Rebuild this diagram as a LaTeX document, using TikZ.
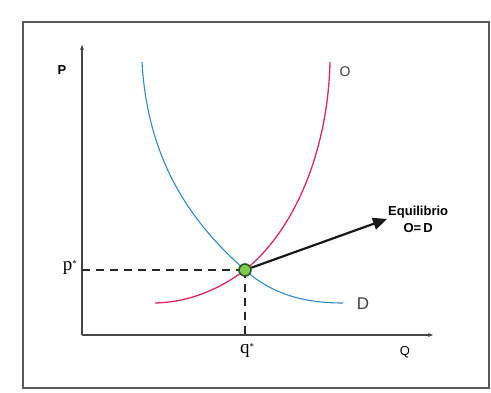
\documentclass[tikz,border=0pt]{standalone}
\usepackage{fontspec}
\setmainfont{Liberation Sans}
\newfontfamily\serifp{Liberation Serif}
\usetikzlibrary{arrows.meta,calc}
\definecolor{framegray}{RGB}{90, 90, 90}
\definecolor{axisgray}{RGB}{70, 70, 70}
\definecolor{demblue}{RGB}{45, 140, 200}
\definecolor{ofred}{RGB}{220, 40, 90}
\definecolor{eqgreen}{RGB}{130, 200, 80}
\definecolor{eqdark}{RGB}{40, 90, 30}
\tikzset{
  % Marco y ejes
  framebox/.style   = {draw=framegray, line width=1.6pt},
  axisline/.style   = {-{Stealth[length=5pt,width=4pt]}, line width=1.8pt, axisgray},
  % Curvas
  demcurve/.style   = {demblue, line width=1.1pt},
  ofcurve/.style    = {ofred, line width=1.3pt},
  % Lineas guia
  guideline/.style  = {dashed, dash pattern=on 8pt off 6pt, line width=1.4pt, black!85},
  eqarrow/.style    = {-{Triangle[length=14pt,width=12pt]}, line width=2.2pt, black!90},
  % Etiquetas
  axlab/.style      = {font=\bfseries\fontsize{13}{14}\selectfont, inner sep=1pt},
  curvelab/.style   = {font=\fontsize{17}{18}\selectfont, text=black!75, inner sep=1pt},
  starlab/.style    = {font=\serifp\fontsize{19}{19}\selectfont, inner sep=1pt},
  eqlabel/.style    = {font=\bfseries\fontsize{13}{17}\selectfont, align=center, inner sep=1pt},
  eqdot/.style      = {circle, fill=eqgreen, draw=eqdark, line width=1.6pt, minimum size=12pt, inner sep=0pt},
}
\begin{document}
\begin{tikzpicture}[x=1pt, y=-1pt]
  \useasboundingbox (0,0) rectangle (491,393);
  % Marco
  \draw[framebox] (23,22) rectangle (489,388);
  % Ejes
  \coordinate (O) at (82,335);
  \coordinate (ytop) at (82,45);
  \coordinate (xend) at (433,335);
  \draw[axisline] (O) -- (ytop);
  \draw[axisline] (O) -- (xend);
  \node[axlab] (plab) at (62,70) {P};
  \node[axlab, font=\fontsize{13}{14}\selectfont] (qlab) at (405,352) {Q};
  % Punto de equilibrio
  \coordinate (E) at (245,270);
  \coordinate (pstar) at (82,270);
  \coordinate (qstar) at (245,335);
  % Curva de demanda D
  \draw[demcurve] (142,62) .. controls (148,170) and (200,230) .. (E)
    .. controls (275,297) and (310,303) .. (343,303);
  % Curva de oferta O
  \draw[ofcurve] (155,303) .. controls (195,302) and (225,285) .. (E)
    .. controls (295,230) and (328,150) .. (330,62);
  \node[curvelab] (dlab) at (363,304) {D};
  \node[curvelab, font=\fontsize{14}{15}\selectfont] (olab) at (345,72) {O};
  % Lineas guia
  \draw[guideline] (pstar) -- (E);
  \draw[guideline] (E) -- (qstar);
  \node[starlab, left] (plabstar) at (78,268) {p\raisebox{0.45ex}{\fontsize{9}{9}\selectfont*}};
  \node[starlab] (qlabstar) at (247,351) {q\raisebox{0.45ex}{\fontsize{9}{9}\selectfont*}};
  % Flecha al texto
  \node[eqlabel, anchor=west] (eqtext) at (387,219) {Equilibrio\\O=\,D};
  \node[eqdot] (eq) at (E) {};
  \draw[eqarrow] (eq) -- (eqtext.west);
\end{tikzpicture}
\end{document}
